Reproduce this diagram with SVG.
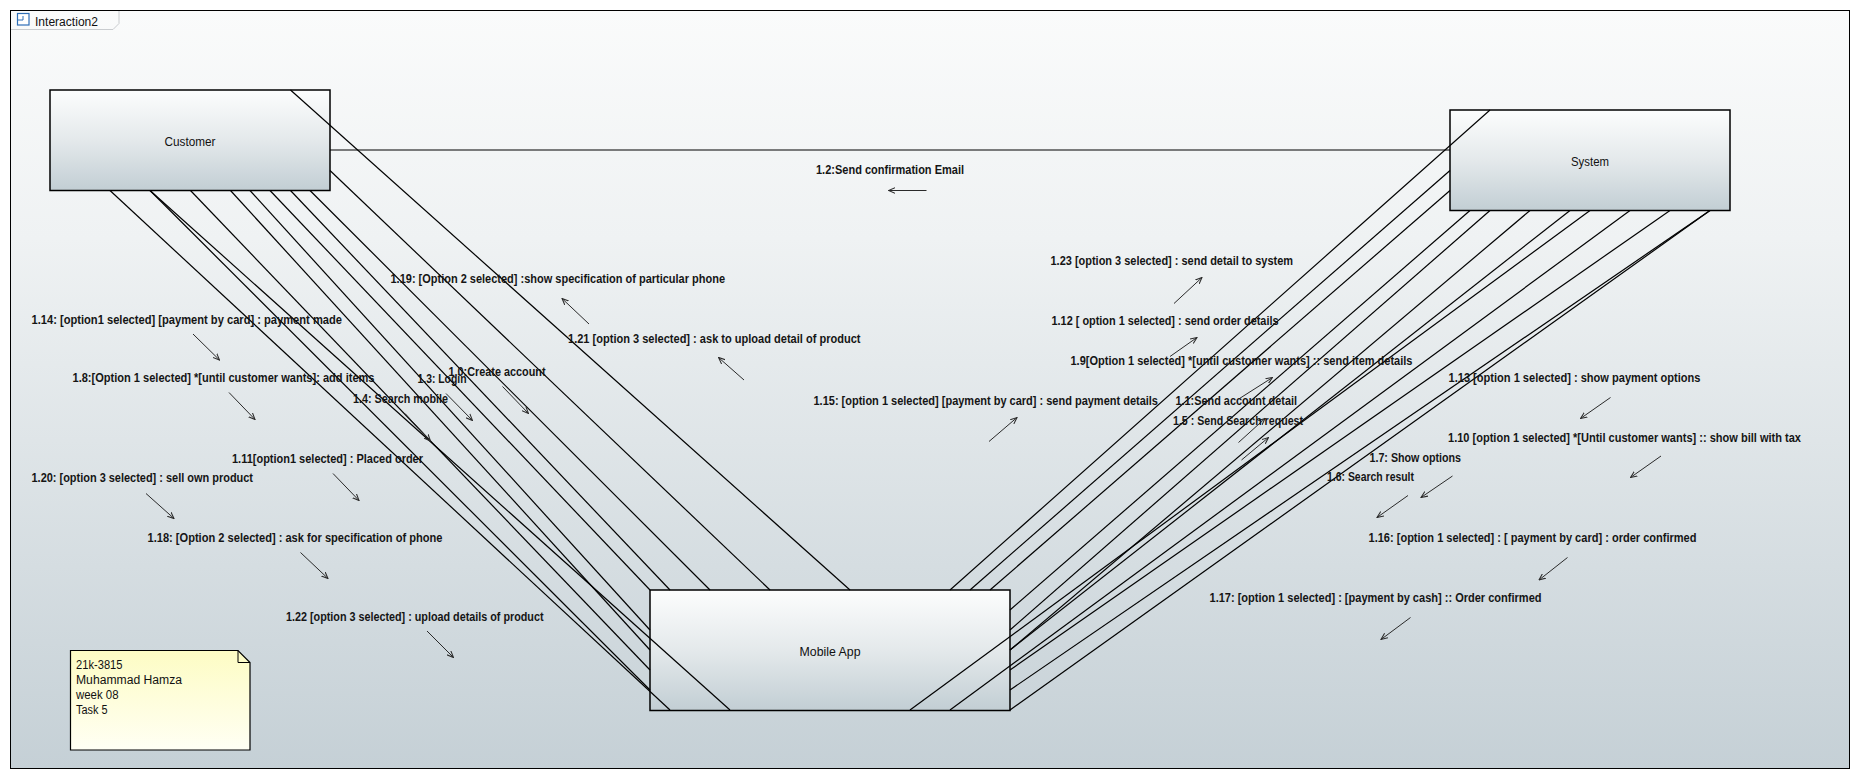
<svg xmlns="http://www.w3.org/2000/svg" width="1861" height="780" viewBox="0 0 1861 780">
  <style>
    .lbl { font-family: "Liberation Sans", Arial, sans-serif; font-size: 12px; font-weight: bold; fill: #151515; }
    .nt { font-family: "Liberation Sans", Arial, sans-serif; font-size: 12px; fill: #111; }
    .node { stroke: #000; stroke-width: 1.5; fill: url(#boxGrad); }
    .conn { stroke: #000; stroke-width: 1.2; fill: none; }
    .msg { stroke: #2a2a2a; stroke-width: 1; fill: none; marker-end: url(#arr); }
  </style>
  <defs>
    <linearGradient id="frameGrad" x1="0" y1="0" x2="0" y2="1">
      <stop offset="0" stop-color="#fafbfb"/>
      <stop offset="0.3" stop-color="#eff2f3"/>
      <stop offset="1" stop-color="#c5d0d6"/>
    </linearGradient>
    <linearGradient id="boxGrad" x1="0" y1="0" x2="0" y2="1">
      <stop offset="0" stop-color="#fcfdfd"/>
      <stop offset="0.5" stop-color="#e4e9eb"/>
      <stop offset="1" stop-color="#c2ced4"/>
    </linearGradient>
    <linearGradient id="noteGrad" x1="0" y1="0" x2="0" y2="1">
      <stop offset="0" stop-color="#fdfcc4"/>
      <stop offset="1" stop-color="#fffff4"/>
    </linearGradient>
    <marker id="arr" viewBox="0 0 8 8" refX="7.5" refY="4" markerWidth="7" markerHeight="7" markerUnits="userSpaceOnUse" orient="auto">
      <path d="M0,0.8 L7.5,4 L0,7.2" fill="none" stroke="#2a2a2a" stroke-width="1.2"/>
    </marker>
  </defs>

  <rect x="0" y="0" width="1861" height="780" fill="#ffffff"/>

  <g id="frame">
    <rect x="10.5" y="10.5" width="1839" height="758" fill="url(#frameGrad)" stroke="#000" stroke-width="1"/>
    <path d="M11,29.5 H113 L119,23.5 V11" fill="none" stroke="#c9cccf" stroke-width="1"/>
    <rect x="17.5" y="13.5" width="11.5" height="11.5" fill="#ffffff" stroke="#2f6fb7" stroke-width="1.2"/>
    <path d="M17.5,20 H23 V16" fill="none" stroke="#2f6fb7" stroke-width="1"/>
    <text class="nt" x="35" y="26" textLength="63" lengthAdjust="spacingAndGlyphs">Interaction2</text>
  </g>

  <g id="node-customer">
    <rect class="node" x="50" y="90" width="280" height="100.5"/>
    <text class="nt" x="190" y="146" text-anchor="middle" textLength="51" lengthAdjust="spacingAndGlyphs">Customer</text>
  </g>

  <g id="node-system">
    <rect class="node" x="1450" y="110" width="280" height="100.5"/>
    <text class="nt" x="1590" y="166" text-anchor="middle" textLength="38" lengthAdjust="spacingAndGlyphs">System</text>
  </g>

  <g id="node-mobileapp">
    <rect class="node" x="650" y="590" width="360" height="120.5"/>
    <text class="nt" x="830" y="656" text-anchor="middle" textLength="61" lengthAdjust="spacingAndGlyphs">Mobile App</text>
  </g>

  <g id="note">
    <path d="M70.5,650.5 H238 L250,662.5 V750 H70.5 Z" fill="url(#noteGrad)" stroke="#000" stroke-width="1.2"/>
    <path d="M238,650.5 V662.5 H250" fill="none" stroke="#000" stroke-width="1"/>
    <text class="nt" x="76" y="669" textLength="46.5" lengthAdjust="spacingAndGlyphs">21k-3815</text>
    <text class="nt" x="76" y="684" textLength="106" lengthAdjust="spacingAndGlyphs">Muhammad Hamza</text>
    <text class="nt" x="76" y="699" textLength="42.5" lengthAdjust="spacingAndGlyphs">week 08</text>
    <text class="nt" x="76" y="714" textLength="31.5" lengthAdjust="spacingAndGlyphs">Task 5</text>
  </g>

  <g id="connectors">
    <line class="conn" x1="330" y1="150" x2="1450" y2="150"/>
    <!-- Customer to Mobile App -->
    <line class="conn" x1="110" y1="190.5" x2="670" y2="710"/>
    <line class="conn" x1="150" y1="190.5" x2="650" y2="690"/>
    <line class="conn" x1="150" y1="190.5" x2="730" y2="710"/>
    <line class="conn" x1="190.5" y1="190.5" x2="650" y2="670"/>
    <line class="conn" x1="230.5" y1="190.5" x2="650" y2="650"/>
    <line class="conn" x1="250" y1="190.5" x2="650" y2="630"/>
    <line class="conn" x1="270" y1="190.5" x2="650" y2="590"/>
    <line class="conn" x1="290.5" y1="190.5" x2="670" y2="590"/>
    <line class="conn" x1="310" y1="190.5" x2="710" y2="590"/>
    <line class="conn" x1="330" y1="170.5" x2="770" y2="590"/>
    <line class="conn" x1="290.5" y1="90" x2="850" y2="590"/>
    <!-- System to Mobile App -->
    <line class="conn" x1="1490" y1="110" x2="950" y2="590"/>
    <line class="conn" x1="1450" y1="170.5" x2="970" y2="590"/>
    <line class="conn" x1="1450" y1="190.5" x2="990" y2="590"/>
    <line class="conn" x1="1470" y1="210.5" x2="1010" y2="610"/>
    <line class="conn" x1="1490" y1="210.5" x2="1010" y2="630"/>
    <line class="conn" x1="1530" y1="210.5" x2="1010" y2="650"/>
    <line class="conn" x1="1570" y1="210.5" x2="1010" y2="650"/>
    <line class="conn" x1="1590" y1="210.5" x2="910" y2="710"/>
    <line class="conn" x1="1630" y1="210.5" x2="950" y2="710"/>
    <line class="conn" x1="1670" y1="210.5" x2="1010" y2="670"/>
    <line class="conn" x1="1710" y1="210.5" x2="1010" y2="690"/>
    <line class="conn" x1="1710" y1="210.5" x2="1010" y2="710"/>
  </g>

  <g id="messages">
    <!-- message direction arrows -->
    <line class="msg" x1="926.5" y1="190.5" x2="888.5" y2="190.5"/>
    <line class="msg" x1="589" y1="324" x2="562" y2="298.5"/>
    <line class="msg" x1="744" y1="380" x2="718.5" y2="357.5"/>
    <line class="msg" x1="193" y1="334" x2="219.5" y2="360"/>
    <line class="msg" x1="229" y1="392.5" x2="255" y2="419.5"/>
    <line class="msg" x1="446" y1="393.5" x2="472.5" y2="420.5"/>
    <line class="msg" x1="502.5" y1="386.5" x2="528.5" y2="413.5"/>
    <line class="msg" x1="405" y1="413.5" x2="430.5" y2="441"/>
    <line class="msg" x1="333" y1="473.5" x2="359" y2="500.5"/>
    <line class="msg" x1="146" y1="493.5" x2="174" y2="518.5"/>
    <line class="msg" x1="300.5" y1="552.5" x2="328" y2="578.5"/>
    <line class="msg" x1="427" y1="631" x2="453.5" y2="657.5"/>
    <line class="msg" x1="1174" y1="303.5" x2="1202" y2="277.5"/>
    <line class="msg" x1="1170" y1="356.5" x2="1197" y2="337.5"/>
    <line class="msg" x1="1239.5" y1="398.5" x2="1272.5" y2="377.5"/>
    <line class="msg" x1="989" y1="441.5" x2="1017" y2="417.5"/>
    <line class="msg" x1="1238.5" y1="442.5" x2="1265" y2="418.5"/>
    <line class="msg" x1="1241.5" y1="460" x2="1268.5" y2="437.5"/>
    <line class="msg" x1="1610.5" y1="397.5" x2="1580.5" y2="418.5"/>
    <line class="msg" x1="1661" y1="456" x2="1630.5" y2="477.5"/>
    <line class="msg" x1="1452.5" y1="476" x2="1421" y2="497.5"/>
    <line class="msg" x1="1408" y1="495.5" x2="1377" y2="517.5"/>
    <line class="msg" x1="1567.5" y1="557.5" x2="1539" y2="580"/>
    <line class="msg" x1="1410.5" y1="617.5" x2="1381" y2="639.5"/>

    <!-- message labels -->
    <text class="lbl" x="816" y="174" textLength="148" lengthAdjust="spacingAndGlyphs">1.2:Send confirmation Email</text>
    <text class="lbl" x="390.5" y="283" textLength="334.5" lengthAdjust="spacingAndGlyphs">1.19: [Option 2 selected] :show specification of particular phone</text>
    <text class="lbl" x="568" y="342.5" textLength="292.5" lengthAdjust="spacingAndGlyphs">1.21 [option 3 selected] : ask to upload detail of product</text>
    <text class="lbl" x="31.5" y="323.5" textLength="310.5" lengthAdjust="spacingAndGlyphs">1.14: [option1 selected] [payment by card] : payment made</text>
    <text class="lbl" x="72.5" y="382" textLength="302" lengthAdjust="spacingAndGlyphs">1.8:[Option 1 selected] *[until customer wants]: add items</text>
    <text class="lbl" x="417.5" y="383" textLength="49" lengthAdjust="spacingAndGlyphs">1.3: Login</text>
    <text class="lbl" x="448.5" y="376" textLength="97" lengthAdjust="spacingAndGlyphs">1.0:Create account</text>
    <text class="lbl" x="353" y="403" textLength="95" lengthAdjust="spacingAndGlyphs">1.4: Search mobile</text>
    <text class="lbl" x="232" y="462.5" textLength="191" lengthAdjust="spacingAndGlyphs">1.11[option1 selected] : Placed order</text>
    <text class="lbl" x="31.5" y="481.5" textLength="221.5" lengthAdjust="spacingAndGlyphs">1.20: [option 3 selected] : sell own product</text>
    <text class="lbl" x="147.5" y="541.5" textLength="295" lengthAdjust="spacingAndGlyphs">1.18: [Option 2 selected] : ask for specification of phone</text>
    <text class="lbl" x="286" y="621" textLength="257.5" lengthAdjust="spacingAndGlyphs">1.22 [option 3 selected] : upload details of product</text>
    <text class="lbl" x="1050.5" y="264.5" textLength="242.5" lengthAdjust="spacingAndGlyphs">1.23 [option 3 selected] : send detail to system</text>
    <text class="lbl" x="1051.5" y="324.5" textLength="227" lengthAdjust="spacingAndGlyphs">1.12 [ option 1 selected] : send order details</text>
    <text class="lbl" x="1070.5" y="364.5" textLength="342" lengthAdjust="spacingAndGlyphs">1.9[Option 1 selected] *[until customer wants] :: send item details</text>
    <text class="lbl" x="813.5" y="404.5" textLength="344.5" lengthAdjust="spacingAndGlyphs">1.15: [option 1 selected] [payment by card] : send payment details</text>
    <text class="lbl" x="1175.5" y="404.5" textLength="121.5" lengthAdjust="spacingAndGlyphs">1.1:Send account detail</text>
    <text class="lbl" x="1173" y="424.5" textLength="130" lengthAdjust="spacingAndGlyphs">1.5 : Send Search request</text>
    <text class="lbl" x="1448.5" y="381.5" textLength="252" lengthAdjust="spacingAndGlyphs">1.13 [option 1 selected] : show payment options</text>
    <text class="lbl" x="1448" y="441.5" textLength="353" lengthAdjust="spacingAndGlyphs">1.10 [option 1 selected] *[Until customer wants] :: show bill with tax</text>
    <text class="lbl" x="1369.5" y="461.5" textLength="91.5" lengthAdjust="spacingAndGlyphs">1.7: Show options</text>
    <text class="lbl" x="1327" y="480.5" textLength="87" lengthAdjust="spacingAndGlyphs">1.6: Search result</text>
    <text class="lbl" x="1368.5" y="542" textLength="328" lengthAdjust="spacingAndGlyphs">1.16: [option 1 selected] : [ payment by card] : order confirmed</text>
    <text class="lbl" x="1209.5" y="602" textLength="332" lengthAdjust="spacingAndGlyphs">1.17: [option 1 selected] : [payment by cash] :: Order confirmed</text>
  </g>
</svg>
